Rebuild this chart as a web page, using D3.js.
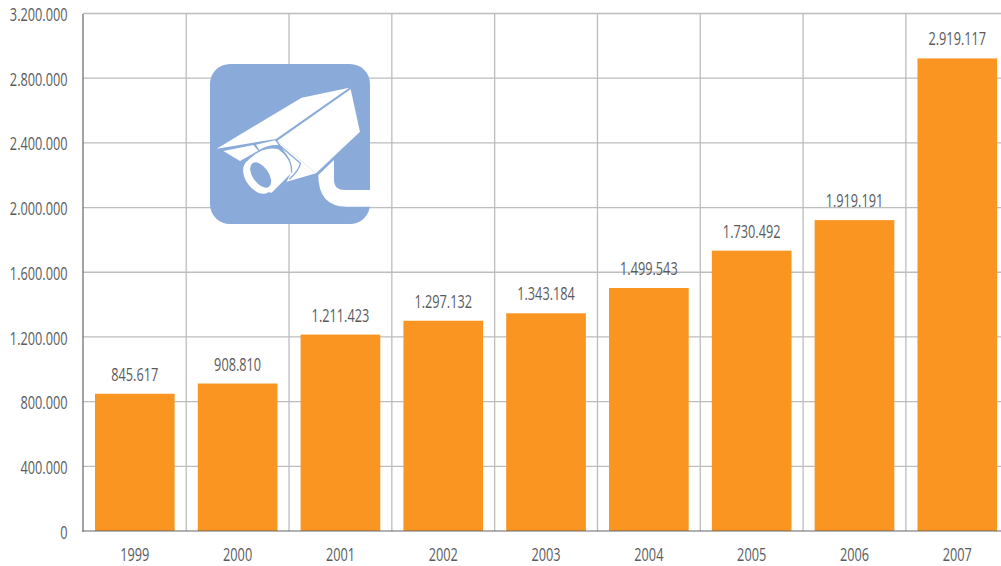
<!DOCTYPE html>
<html><head><meta charset="utf-8">
<script src="https://cdn.jsdelivr.net/npm/d3@7/dist/d3.min.js"></script>
<style>html,body{margin:0;padding:0;background:#fff;overflow:hidden}svg{display:block}</style>
</head><body><div id="c"></div>
<script>
const years=["1999","2000","2001","2002","2003","2004","2005","2006","2007"];
const values=[845617,908810,1211423,1297132,1343184,1499543,1730492,1919191,2919117];
const yTicks=[0,400000,800000,1200000,1600000,2000000,2400000,2800000,3200000];
const W=1001,H=566;
const fmt=v=>d3.format(",")(v).replace(/,/g,".");
const svg=d3.select("#c").append("svg").attr("width",W).attr("height",H);
const x=d3.scaleBand().domain(years).range([83.4,1008.7]).paddingInner(0.225).paddingOuter(0.1125);
const y=d3.scaleLinear().domain([0,3200000]).range([531,13.5]);
const narrow=(s,k)=>s.each(function(){const n=this.getComputedTextLength();
  d3.select(this).attr("textLength",n*k).attr("lengthAdjust","spacingAndGlyphs");});
const font="'Open Sans',sans-serif", tc="#5a5b5d", fs=19, k=0.67;
const grid=svg.append("g").attr("stroke","#bdbdbd").attr("stroke-width",1.3);
grid.selectAll("line.h").data(yTicks.slice(1)).join("line").attr("class","h")
  .attr("x1",83).attr("x2",W).attr("y1",d=>y(d)).attr("y2",d=>y(d));
const step=x.step();
const vx=d=>x(d)+x.bandwidth()+(step-x.bandwidth())/2;
grid.selectAll("line.v").data(years.slice(0,-1)).join("line").attr("class","v")
  .attr("x1",vx).attr("x2",vx).attr("y1",y(3200000)).attr("y2",y(0));
// icon
const blue="#8aabd9";
const ic=svg.append("g").attr("transform","translate(190,50) scale(0.3333)");
ic.append("rect").attr("x",60).attr("y",42).attr("width",480).attr("height",480).attr("rx",60).attr("fill",blue);
ic.selectAll("path.w").data([
 "M80,296 L335,143 L478,113 L258,267 Z",
 "M482,118 L510,245 L378,370 L262,272 Z",
 "M100,303 L190,285 L205,302 L150,333 Z",
 "M198,284 L255,271 L266,285 Q235,283 208,300 Z",
 "M262,272 L378,370 L290,395 L303,368 L300,330 Z",
 "M385,375 Q385,470 470,470 L540,470 L540,420 L465,420 Q432,420 432,390 L432,330 Z",
 "M165,340 Q215,285 265,298 Q310,330 303,370 L245,428 L200,420 Z"
]).join("path").attr("class","w").attr("d",d=>d).attr("fill","#fff");
ic.append("path").attr("d","M265,283 L331,340 Q328,360 298,388 M272,298 Q308,330 305,368")
  .attr("fill","none").attr("stroke",blue).attr("stroke-width",4);
ic.append("ellipse").attr("cx",203).attr("cy",381).attr("rx",36).attr("ry",56).attr("transform","rotate(-35 203 381)").attr("fill","#fff");
ic.append("ellipse").attr("cx",212).attr("cy",375).attr("rx",24).attr("ry",43).attr("transform","rotate(-35 212 375)").attr("fill",blue);
// bars
svg.append("g").selectAll("rect").data(values).join("rect")
  .attr("x",(d,i)=>x(years[i])).attr("width",x.bandwidth())
  .attr("y",d=>y(d)-0.5).attr("height",d=>y(0)-y(d)+0.5).attr("fill","#f99520");
// axes
const ax=svg.append("g").attr("transform","translate(82.5,1)")
  .call(d3.axisLeft(y).tickValues(yTicks).tickSize(0).tickPadding(15).tickFormat(fmt));
ax.select(".domain").attr("transform","translate(0,-1)").attr("stroke","#666").attr("stroke-width",1.2);
ax.selectAll("text").attr("font-family",font).attr("font-size",fs).attr("fill",tc).call(narrow,k);
const bx=svg.append("g").attr("transform","translate(0,533.5)")
  .call(d3.axisBottom(x).tickSize(0).tickPadding(14));
bx.select(".domain").remove();
svg.append("line").attr("x1",82).attr("x2",W).attr("y1",531).attr("y2",531).attr("stroke","#666").attr("stroke-width",1.2);
bx.selectAll("text").attr("font-family",font).attr("font-size",fs).attr("fill",tc).call(narrow,k);
svg.append("g").selectAll("text").data(values).join("text")
  .attr("x",(d,i)=>x(years[i])+x.bandwidth()/2).attr("y",d=>y(d)-13.5)
  .attr("text-anchor","middle").attr("font-family",font).attr("font-size",fs).attr("fill",tc)
  .text(fmt).call(narrow,k);
</script></body></html>
